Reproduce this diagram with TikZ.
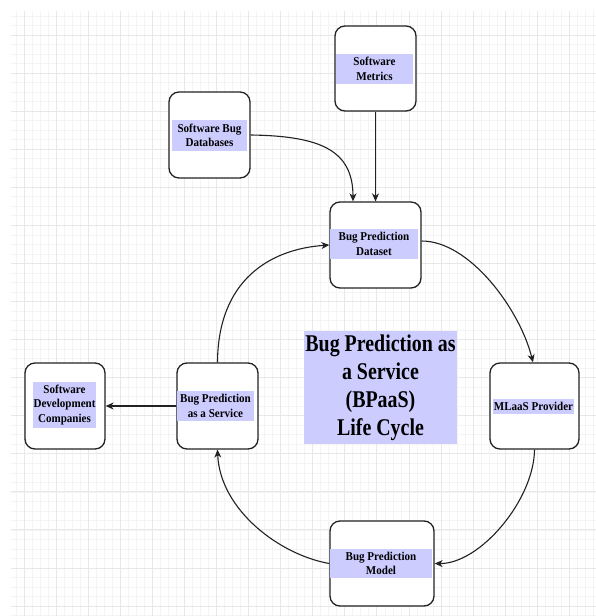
\documentclass[tikz,border=0pt]{standalone}
\usepackage{fontspec}
\usetikzlibrary{arrows.meta}
\newfontfamily\smallfam[FakeStretch=0.92]{Liberation Serif}
\newfontfamily\titlefam[FakeStretch=0.83]{Liberation Serif}
\definecolor{band}{HTML}{CCCCFF}
\definecolor{gridmajor}{HTML}{E8E8E8}
\definecolor{gridminor}{HTML}{F4F4F4}
\definecolor{edge}{HTML}{222222}
\begin{document}
\begin{tikzpicture}[x=1pt,y=-1pt,
  box/.style={draw=edge,line width=1.3pt,rounded corners=10pt,fill=white,inner sep=0pt},
  lab/.style={fill=band,inner sep=0pt,align=center,font=\smallfam\bfseries\fontsize{12}{14.4}\selectfont},
  conn/.style={draw=edge,line width=1.1pt,-{Stealth[length=8pt,width=7pt,inset=2.5pt]}}]
\useasboundingbox (0,0) rectangle (596,616);
\fill[white] (0,0) rectangle (596,616);
% grid
\begin{scope}
\clip (11,11) rectangle (596,616);
\foreach \k in {-1,...,72} {\draw[gridminor,line width=0.8pt] ({24+8.02*\k},11) -- ({24+8.02*\k},616);}
\foreach \k in {-3,...,62} {\draw[gridminor,line width=0.8pt] (11,{35+9.52*\k}) -- (596,{35+9.52*\k});}
\foreach \k in {0,...,18} {\draw[gridmajor,line width=0.9pt] ({24+32.08*\k},11) -- ({24+32.08*\k},616);}
\foreach \k in {0,...,15} {\draw[gridmajor,line width=0.9pt] (11,{35+38.07*\k}) -- (596,{35+38.07*\k});}
\end{scope}
% boxes
\node[box,minimum width=81pt,minimum height=85pt] (metrics) at (375.5,68.5) {};
\node[box,minimum width=81pt,minimum height=86pt] (db) at (209.5,135) {};
\node[box,minimum width=91pt,minimum height=86pt] (dataset) at (375.5,245) {};
\node[box,minimum width=89pt,minimum height=86pt] (mlaas) at (534.5,406) {};
\node[box,minimum width=104pt,minimum height=85pt] (model) at (382,563.5) {};
\node[box,minimum width=81pt,minimum height=86pt] (service) at (217.5,406) {};
\node[box,minimum width=80pt,minimum height=86pt] (companies) at (65,406) {};
% labels
\node[lab,minimum width=77pt,minimum height=30pt] (metricsL) at (374.5,69) {Software\\Metrics};
\node[lab,minimum width=75pt,minimum height=31pt] (dbL) at (209.5,135.5) {Software Bug\\Databases};
\node[lab,minimum width=88pt,minimum height=30pt] (datasetL) at (374,244) {Bug Prediction\\Dataset};
\node[lab,minimum width=77pt,minimum height=30pt] (serviceL) at (215.5,406) {Bug Prediction\\as a Service};
\node[lab,minimum width=63pt,minimum height=46pt] (companiesL) at (64.5,405) {Software\\Development\\Companies};
\node[lab,minimum width=81pt,minimum height=15pt] (mlaasL) at (533.5,406.5) {MLaaS Provider};
\node[lab,minimum width=102pt,minimum height=29pt] (modelL) at (381,563.5) {Bug Prediction\\Model};
\node[fill=band,inner sep=0pt,align=center,minimum width=153pt,minimum height=113pt,
  font=\titlefam\bfseries\fontsize{24}{28}\selectfont] (title) at (380.5,387.5)
  {Bug Prediction as\\a Service\\(BPaaS)\\Life Cycle};
% connectors
\draw[conn] (db.east) .. controls (320,136) and (353,150) .. ([xshift=-22.5pt]dataset.north);
\draw[conn] (metrics.south) -- (dataset.north);
\draw[conn] (service.north) .. controls (218,280) and (270,249) .. (dataset.west);
\draw[conn] ([yshift=4pt]dataset.east) .. controls (470,241) and (520,310) .. ([xshift=-1.5pt]mlaas.north);
\draw[conn] (mlaas.south) .. controls (534,500) and (480,564) .. (model.east);
\draw[conn] (model.west) .. controls (280,555) and (220,510) .. (service.south);
\draw[conn] (service.west) -- (companies.east);
\end{tikzpicture}
\end{document}
